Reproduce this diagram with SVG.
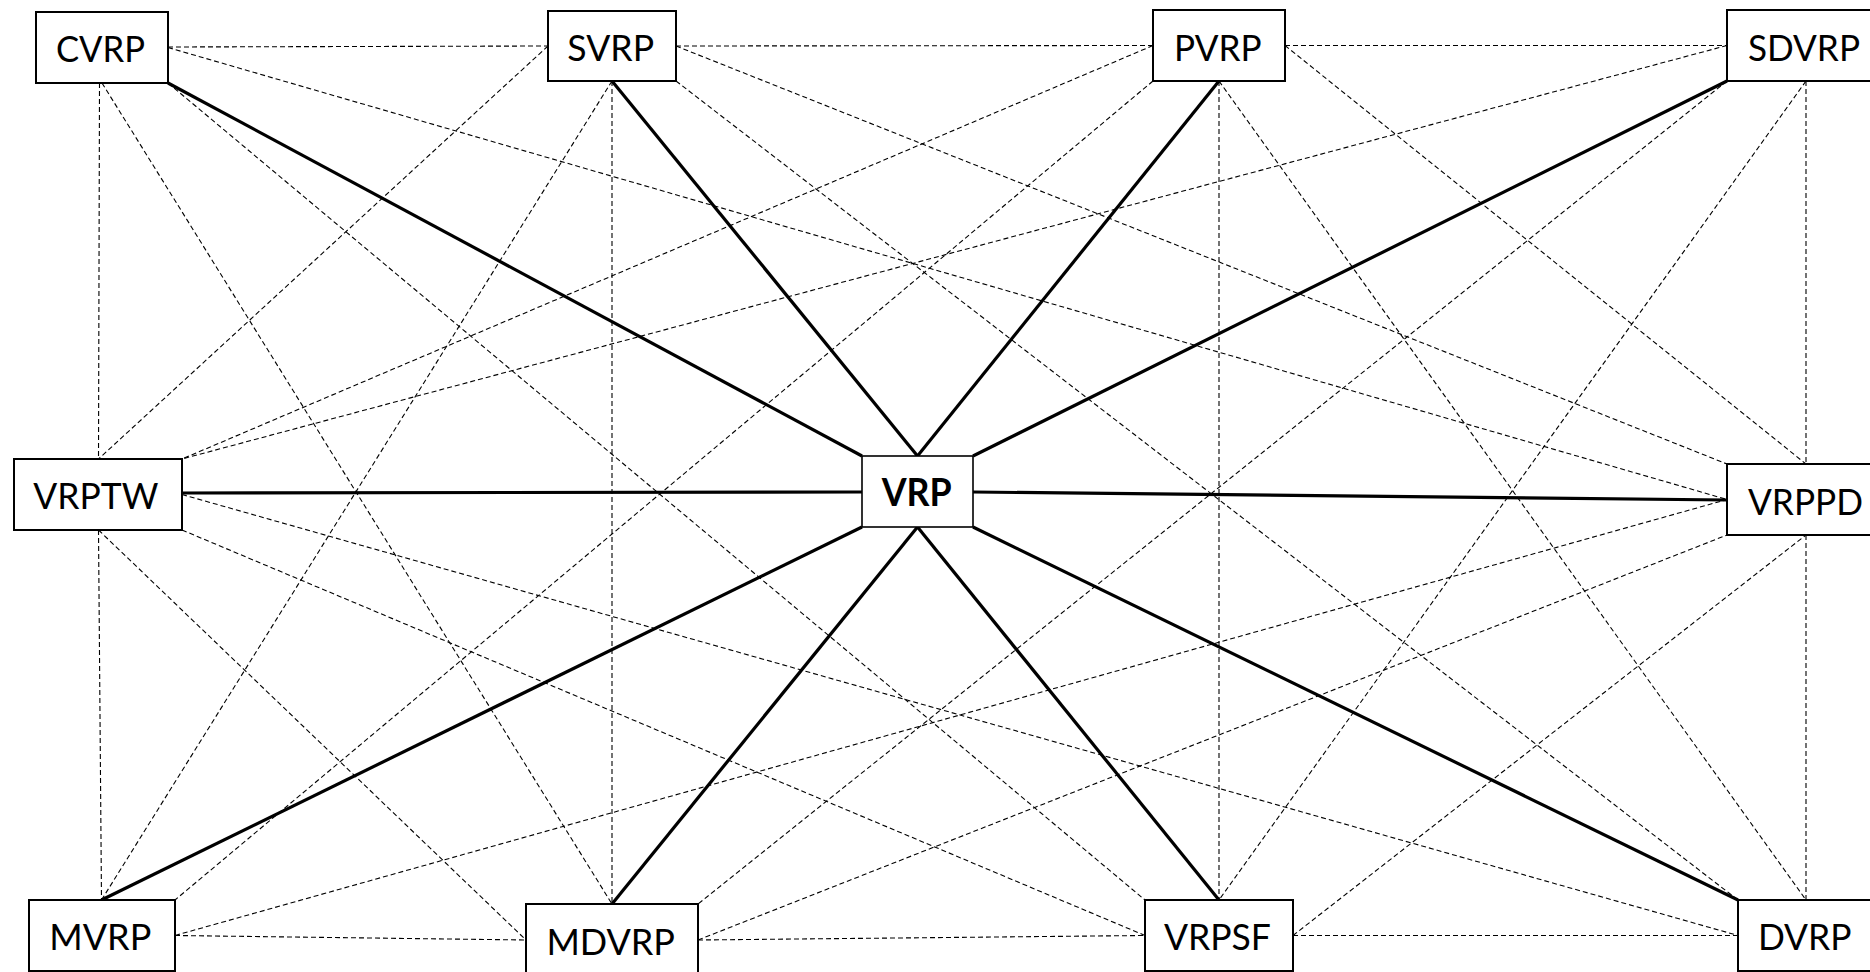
<svg xmlns="http://www.w3.org/2000/svg" width="1870" height="972" viewBox="0 0 1870 972">
  <style>
    .d { stroke: #000; stroke-width: 1.1; stroke-dasharray: 5 3; fill: none; }
    .t { stroke: #000; stroke-width: 3.2; fill: none; }
    .box { fill: #fff; stroke: #000; stroke-width: 2; }
    .lbl { font-family: Lato, "Liberation Sans", sans-serif; font-size: 37.5px; fill: #000; text-anchor: middle; }
    .bold { font-weight: bold; }
  </style>
  <rect width="1870" height="972" fill="#fff"/>

  <g id="connectors">
    <!-- dashed links between the outer problem variants -->
    <g id="dashed">
      <line class="d" x1="168" y1="47" x2="548" y2="46"/>
      <line class="d" x1="676" y1="46" x2="1153" y2="45.5"/>
      <line class="d" x1="1285" y1="45.5" x2="1727" y2="45.5"/>
      <line class="d" x1="99.5" y1="83" x2="98.5" y2="459"/>
      <line class="d" x1="98.5" y1="530" x2="101.5" y2="900"/>
      <line class="d" x1="612" y1="81" x2="612" y2="904"/>
      <line class="d" x1="1219" y1="81" x2="1219" y2="900"/>
      <line class="d" x1="1806" y1="81" x2="1806" y2="464"/>
      <line class="d" x1="1806" y1="535" x2="1806" y2="900"/>
      <line class="d" x1="175" y1="935.5" x2="526" y2="940"/>
      <line class="d" x1="698" y1="940" x2="1145" y2="935.5"/>
      <line class="d" x1="1293" y1="935.5" x2="1738" y2="935.5"/>
      <line class="d" x1="168" y1="47.5" x2="1727" y2="499.5"/>
      <line class="d" x1="168" y1="83" x2="1145" y2="900"/>
      <line class="d" x1="102" y1="83" x2="612" y2="904"/>
      <line class="d" x1="548" y1="46" x2="98.5" y2="459"/>
      <line class="d" x1="612" y1="81" x2="101.5" y2="900"/>
      <line class="d" x1="676" y1="46" x2="1727" y2="464"/>
      <line class="d" x1="676" y1="81" x2="1738" y2="900"/>
      <line class="d" x1="1153" y1="45.5" x2="182" y2="459"/>
      <line class="d" x1="1153" y1="81" x2="175" y2="900"/>
      <line class="d" x1="1285" y1="45.5" x2="1806" y2="464"/>
      <line class="d" x1="1219" y1="81" x2="1806" y2="900"/>
      <line class="d" x1="1727" y1="45.5" x2="182" y2="459"/>
      <line class="d" x1="1727" y1="81" x2="698" y2="904"/>
      <line class="d" x1="1806" y1="81" x2="1219" y2="900"/>
      <line class="d" x1="182" y1="494.5" x2="1738" y2="935.5"/>
      <line class="d" x1="182" y1="530" x2="1145" y2="935.5"/>
      <line class="d" x1="98.5" y1="530" x2="526" y2="940"/>
      <line class="d" x1="175" y1="935.5" x2="1727" y2="499.5"/>
      <line class="d" x1="698" y1="940" x2="1727" y2="535"/>
      <line class="d" x1="1293" y1="935.5" x2="1806" y2="535"/>
    </g>
    <!-- solid links from the central VRP node -->
    <g id="solid">
      <line class="t" x1="168" y1="83" x2="862" y2="456"/>
      <line class="t" x1="612" y1="81" x2="917.5" y2="456"/>
      <line class="t" x1="1219" y1="81" x2="917.5" y2="456"/>
      <line class="t" x1="1727" y1="81" x2="973" y2="456"/>
      <line class="t" x1="182" y1="493" x2="862" y2="492"/>
      <line class="t" x1="973" y1="492" x2="1727" y2="500"/>
      <line class="t" x1="862" y1="527" x2="101.5" y2="900"/>
      <line class="t" x1="917.5" y1="527" x2="612" y2="904"/>
      <line class="t" x1="917.5" y1="527" x2="1219" y2="900"/>
      <line class="t" x1="973" y1="527" x2="1738" y2="900"/>
    </g>
  </g>

  <g id="CVRP"><rect class="box" x="36" y="12" width="132" height="71"/><text class="lbl" x="100.5" y="61.5" textLength="89" lengthAdjust="spacingAndGlyphs">CVRP</text></g>
  <g id="SVRP"><rect class="box" x="548" y="11" width="128" height="70"/><text class="lbl" x="610.7" y="60.5" textLength="86.7" lengthAdjust="spacingAndGlyphs">SVRP</text></g>
  <g id="PVRP"><rect class="box" x="1153" y="10" width="132" height="71"/><text class="lbl" x="1217.8" y="60.5" textLength="87.7" lengthAdjust="spacingAndGlyphs">PVRP</text></g>
  <g id="SDVRP"><rect class="box" x="1727" y="10" width="160" height="71"/><text class="lbl" x="1804" y="60.5" textLength="112" lengthAdjust="spacingAndGlyphs">SDVRP</text></g>
  <g id="VRPTW"><rect class="box" x="14" y="459" width="168" height="71"/><text class="lbl" x="95.8" y="508.5" textLength="125" lengthAdjust="spacingAndGlyphs">VRPTW</text></g>
  <g id="VRP"><rect class="box" x="862" y="456" width="111" height="71" style="stroke-width:1.6"/><text class="lbl bold" x="916.7" y="506" textLength="70" lengthAdjust="spacingAndGlyphs">VRP</text></g>
  <g id="VRPPD"><rect class="box" x="1727" y="464" width="160" height="71"/><text class="lbl" x="1805.5" y="514.5" textLength="115" lengthAdjust="spacingAndGlyphs">VRPPD</text></g>
  <g id="MVRP"><rect class="box" x="29" y="900" width="146" height="71"/><text class="lbl" x="100.3" y="949.5" textLength="102" lengthAdjust="spacingAndGlyphs">MVRP</text></g>
  <g id="MDVRP"><rect class="box" x="526" y="904" width="172" height="72"/><text class="lbl" x="610.7" y="954.5" textLength="128.6" lengthAdjust="spacingAndGlyphs">MDVRP</text></g>
  <g id="VRPSF"><rect class="box" x="1145" y="900" width="148" height="71"/><text class="lbl" x="1217.4" y="949.5" textLength="107" lengthAdjust="spacingAndGlyphs">VRPSF</text></g>
  <g id="DVRP"><rect class="box" x="1738" y="900" width="136" height="71"/><text class="lbl" x="1804.7" y="949.5" textLength="93.5" lengthAdjust="spacingAndGlyphs">DVRP</text></g>
</svg>
